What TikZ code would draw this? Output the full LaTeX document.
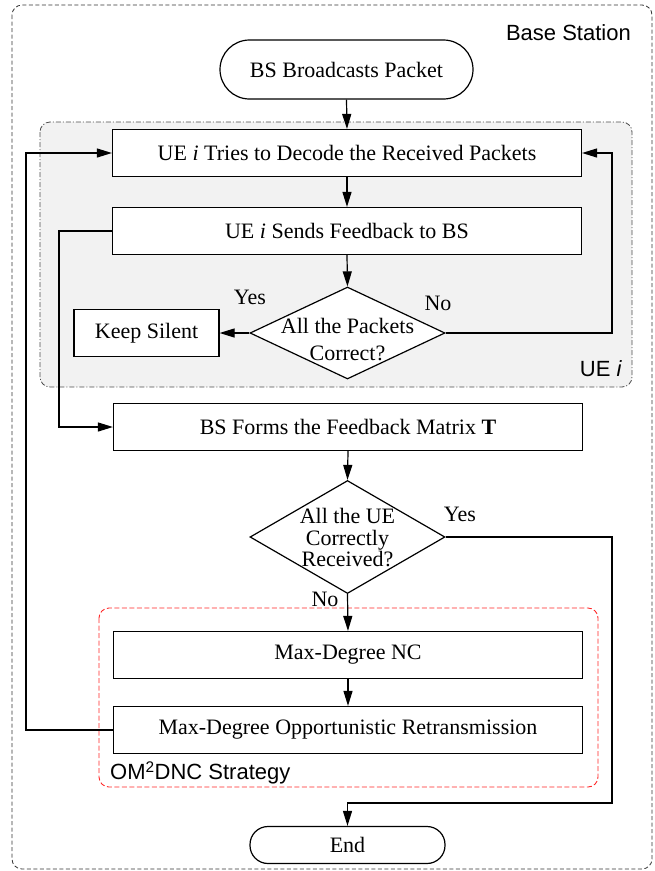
\documentclass[tikz,border=0pt]{standalone}
\usepackage{fontspec}
\setmainfont{Liberation Serif}
\setsansfont{Liberation Sans}
\usetikzlibrary{shapes.geometric,arrows.meta}
\begin{document}
\begin{tikzpicture}[x=1pt,y=-1pt,
  font=\fontsize{22}{26}\selectfont,
  box/.style={draw,line width=1.2pt,fill=white,minimum width=469pt,minimum height=47pt,inner sep=0pt},
  term/.style={draw,line width=1.2pt,fill=white,inner sep=0pt},
  dia/.style={draw,line width=1.2pt,fill=white,diamond,inner sep=0pt},
  arr/.style={line width=1.2pt,-{Triangle[length=15pt,width=9pt]}},
  lbl/.style={inner sep=0pt},
  slbl/.style={inner sep=0pt,font=\sffamily\fontsize{22}{26}\selectfont}]
\useasboundingbox (0,0) rectangle (654,871);
% regions
\draw[line width=0.8pt,dash pattern=on 4pt off 2.5pt,rounded corners=10pt,black!80] (12,5) rectangle (652,869);
\draw[line width=0.8pt,fill=black!5,draw=black!70,dash pattern=on 5pt off 2pt on 1pt off 2pt,rounded corners=10pt] (40,122) rectangle (632,387);
\draw[line width=0.9pt,draw=red!85,dash pattern=on 5pt off 2.5pt,rounded corners=10pt] (99,608) rectangle (598,787);
\node[slbl,anchor=east] (bslbl) at (631,33) {Base Station};
\node[slbl] (uelbl) at (601,369) {UE \textit{i}};
\node[slbl,anchor=west] (omlbl) at (110,773) {OM\textsuperscript{2}DNC Strategy};
% nodes
\node[term,rounded corners=29.5pt,minimum width=253pt,minimum height=59pt] (start) at (346.5,69.5) {BS Broadcasts Packet};
\node[box] (dec) at (347,153) {UE \textit{i} Tries to Decode the Received Packets};
\node[box] (send) at (347,231) {UE \textit{i} Sends Feedback to BS};
\node[dia,minimum width=195pt,minimum height=92pt] (d1) at (347.5,333) {};
\node[lbl,align=center,font=\fontsize{22}{27}\selectfont] (d1t) at (347.5,340) {All the Packets\\Correct?};
\node[draw,line width=1.2pt,fill=white,minimum width=145pt,minimum height=47pt,inner sep=0pt] (ks) at (146.5,333) {Keep Silent};
\node[box] (forms) at (348,427) {BS Forms the Feedback Matrix \textbf{T}};
\node[dia,minimum width=195pt,minimum height=113pt] (d2) at (347.5,537) {};
\node[lbl,align=center,font=\fontsize{22}{21.5}\selectfont] (d2t) at (347.5,538) {All the UE\\Correctly\\Received?};
\node[box] (nc) at (348,655) {Max-Degree NC};
\node[box] (ret) at (348,730) {Max-Degree Opportunistic Retransmission};
\node[term,rounded corners=18pt,minimum width=195pt,minimum height=37pt] (endn) at (347.5,845) {End};
% labels
\node[lbl] (y1) at (250,297) {Yes};
\node[lbl] (n1) at (438,303) {No};
\node[lbl] (y2) at (460,514) {Yes};
\node[lbl] (n2) at (325,599) {No};
% helper coordinates
\coordinate (nr) at (612,333);
\coordinate (fbx) at (59,300);
\coordinate (lx) at (26,400);
\coordinate (yc) at (612,803);
% connectors
\draw[arr] (start.south) -- (dec.north);
\draw[arr] (dec.south) -- (send.north);
\draw[arr] (send.south) -- (d1.north);
\draw[arr] (d1.west) -- (ks.east);
\draw[arr] (d1.east) -- (nr) |- (dec.east);
\draw[arr] (send.west) -| (fbx) |- (forms.west);
\draw[arr] (forms.south) -- (d2.north);
\draw[arr] (d2.south) -- (nc.north);
\draw[arr] (nc.south) -- (ret.north);
\draw[arr] (ret.west) -| (lx) |- (dec.west);
\draw[arr] (d2.east) -| (yc) -| (endn.north);
\end{tikzpicture}
\end{document}
